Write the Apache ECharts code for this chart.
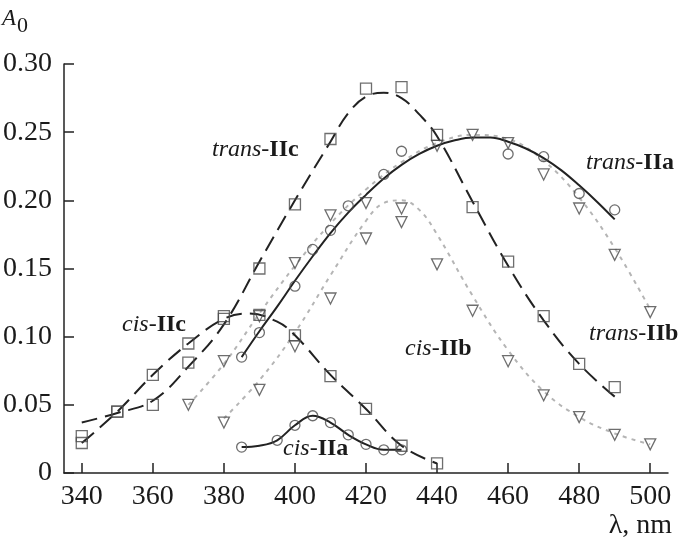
<!DOCTYPE html>
<html>
<head>
<meta charset="utf-8">
<style>html,body{margin:0;padding:0;background:#fff;}#c{width:685px;height:554px;}</style>
<script src="https://cdn.jsdelivr.net/npm/echarts@6/dist/echarts.min.js"></script>
</head>
<body>
<div id="c"></div>
<script>
// ---- tick labels ----
const xTicks = [340, 360, 380, 400, 420, 440, 460, 480, 500];
const yTicks = [0, 0.05, 0.10, 0.15, 0.20, 0.25, 0.30];

// ---- measured points ----
const transIIcPts = [[340,0.027],[350,0.045],[360,0.050],[370,0.081],[380,0.113],[390,0.150],[400,0.197],[410,0.245],[420,0.282],[430,0.283],[440,0.248],[450,0.195],[460,0.155],[470,0.115],[480,0.080],[490,0.063]];
const cisIIcPts = [[340,0.022],[350,0.045],[360,0.072],[370,0.095],[380,0.115],[390,0.116],[400,0.101],[410,0.071],[420,0.047],[430,0.020],[440,0.007]];
const transIIaPts = [[385,0.085],[390,0.103],[400,0.137],[405,0.164],[410,0.178],[415,0.196],[425,0.219],[430,0.236],[460,0.234],[470,0.232],[480,0.205],[490,0.193]];
const cisIIaPts = [[385,0.019],[395,0.024],[400,0.035],[405,0.042],[410,0.037],[415,0.028],[420,0.021],[425,0.017],[430,0.017]];
const transIIbPts = [[370,0.050],[380,0.082],[390,0.115],[400,0.154],[410,0.189],[420,0.198],[430,0.194],[440,0.240],[450,0.248],[460,0.242],[470,0.219],[480,0.194],[490,0.160],[500,0.118]];
const cisIIbPts = [[380,0.037],[390,0.061],[400,0.093],[410,0.128],[420,0.172],[430,0.184],[440,0.153],[450,0.119],[460,0.082],[470,0.057],[480,0.041],[490,0.028],[500,0.021]];

// ---- fitted curves ----
const transIIcCurve = [[340,0.037],[350,0.044],[360,0.053],[370,0.078],[380,0.109],[390,0.155],[400,0.200],[410,0.243],[415,0.264],[420,0.276],[425,0.279],[430,0.275],[435,0.263],[440,0.247],[450,0.199],[460,0.152],[470,0.112],[480,0.080],[490,0.056]];
const cisIIcCurve = [[340,0.022],[350,0.045],[360,0.072],[370,0.095],[380,0.113],[387,0.117],[395,0.111],[400,0.101],[410,0.072],[420,0.047],[430,0.020],[440,0.007]];
const transIIaCurve = [[385,0.085],[390,0.104],[395,0.122],[400,0.141],[405,0.159],[410,0.176],[415,0.191],[420,0.204],[425,0.216],[430,0.226],[435,0.234],[440,0.240],[445,0.244],[450,0.246],[455,0.246],[460,0.243],[465,0.238],[470,0.231],[475,0.222],[480,0.211],[485,0.199],[490,0.186]];
const cisIIaCurve = [[385,0.019],[390,0.020],[395,0.024],[400,0.035],[405,0.042],[410,0.037],[415,0.028],[420,0.021],[425,0.017],[430,0.017]];
const transIIbCurve = [[370,0.050],[380,0.080],[390,0.117],[400,0.152],[410,0.183],[420,0.208],[430,0.228],[440,0.242],[450,0.248],[460,0.245],[470,0.229],[480,0.202],[490,0.165],[500,0.120]];
const cisIIbCurve = [[380,0.040],[390,0.068],[400,0.103],[410,0.145],[420,0.185],[425,0.198],[430,0.200],[435,0.193],[440,0.175],[450,0.130],[460,0.090],[470,0.060],[480,0.041],[490,0.029],[500,0.021]];

const FONT = 'Liberation Serif';
const TXT = '#1a1a1a';
const MK = '#4a4a4a';

function pts(data, symbol, size, rotate) {
  return {
    type: 'scatter', data: data, symbol: symbol, symbolSize: size, symbolRotate: rotate || 0,
    itemStyle: { color: 'rgba(0,0,0,0)', borderColor: MK, borderWidth: 1.3 }, z: 5, silent: true
  };
}
function curve(data, lineType, color, width) {
  return {
    type: 'line', data: data, showSymbol: false, symbol: 'none', smooth: 0.4,
    lineStyle: { type: lineType, color: color, width: width }, z: 3, silent: true
  };
}
function label(x, y, a, b) {
  return {
    type: 'text', x: x, y: y,
    style: {
      text: '{i|' + a + '}{n|-}{b|' + b + '}',
      verticalAlign: 'middle', align: 'left',
      rich: {
        i: { fontFamily: FONT, fontStyle: 'italic', fontSize: 24, fill: TXT, color: TXT },
        n: { fontFamily: FONT, fontSize: 24, fill: TXT, color: TXT },
        b: { fontFamily: FONT, fontWeight: 'bold', fontSize: 24, fill: TXT, color: TXT }
      }
    }
  };
}

const chart = echarts.init(document.getElementById('c'), null, { renderer: 'canvas' });
chart.setOption({
  animation: false,
  backgroundColor: '#fff',
  grid: { left: 64, right: 17, top: 64, bottom: 81, containLabel: false },
  xAxis: {
    type: 'value', min: 335, max: 505,
    axisLine: { show: true, onZero: false, lineStyle: { color: '#222', width: 1.5 } },
    axisTick: { show: true, inside: true, length: 10, customValues: xTicks, lineStyle: { color: '#222', width: 1.5 } },
    axisLabel: { show: true, customValues: xTicks, fontFamily: FONT, fontSize: 28, color: TXT, margin: 10 },
    splitLine: { show: false }
  },
  yAxis: {
    type: 'value', min: 0, max: 0.30, interval: 0.05,
    axisLine: { show: true, onZero: false, lineStyle: { color: '#222', width: 1.5 } },
    axisTick: { show: true, inside: true, length: 10, customValues: yTicks, lineStyle: { color: '#222', width: 1.5 } },
    axisLabel: { show: true, customValues: yTicks, fontFamily: FONT, fontSize: 28, color: TXT, margin: 12,
      formatter: function (v) { return Math.abs(v) < 1e-9 ? '0' : v.toFixed(2); } },
    splitLine: { show: false }
  },
  series: [
    curve(transIIbCurve, [4, 5], '#b5b5b5', 2),
    curve(cisIIbCurve, [4, 5], '#b5b5b5', 2),
    curve(transIIcCurve, [16, 8], '#222', 2),
    curve(cisIIcCurve, [16, 8], '#222', 2),
    curve(transIIaCurve, 'solid', '#222', 2),
    curve(cisIIaCurve, 'solid', '#222', 2),
    pts(transIIcPts, 'rect', 11),
    pts(cisIIcPts, 'rect', 11),
    pts(transIIaPts, 'circle', 10),
    pts(cisIIaPts, 'circle', 10),
    pts(transIIbPts, 'triangle', 11, 180),
    pts(cisIIbPts, 'triangle', 11, 180)
  ],
  graphic: [
    label(212, 150, 'trans', 'IIc'),
    label(586, 163, 'trans', 'IIa'),
    label(589, 334, 'trans', 'IIb'),
    label(122, 325, 'cis', 'IIc'),
    label(405, 349, 'cis', 'IIb'),
    label(283, 449, 'cis', 'IIa'),
    { type: 'text', x: 2, y: 19, style: { text: 'A', fontFamily: FONT, fontStyle: 'italic', fontSize: 23, fill: TXT, verticalAlign: 'middle' } },
    { type: 'text', x: 17, y: 26, style: { text: '0', fontFamily: FONT, fontSize: 22, fill: TXT, verticalAlign: 'middle' } },
    { type: 'text', x: 672, y: 526, style: { text: 'λ, nm', fontFamily: FONT, fontSize: 28, fill: TXT, align: 'right', verticalAlign: 'middle' } }
  ]
});
</script>
</body>
</html>
